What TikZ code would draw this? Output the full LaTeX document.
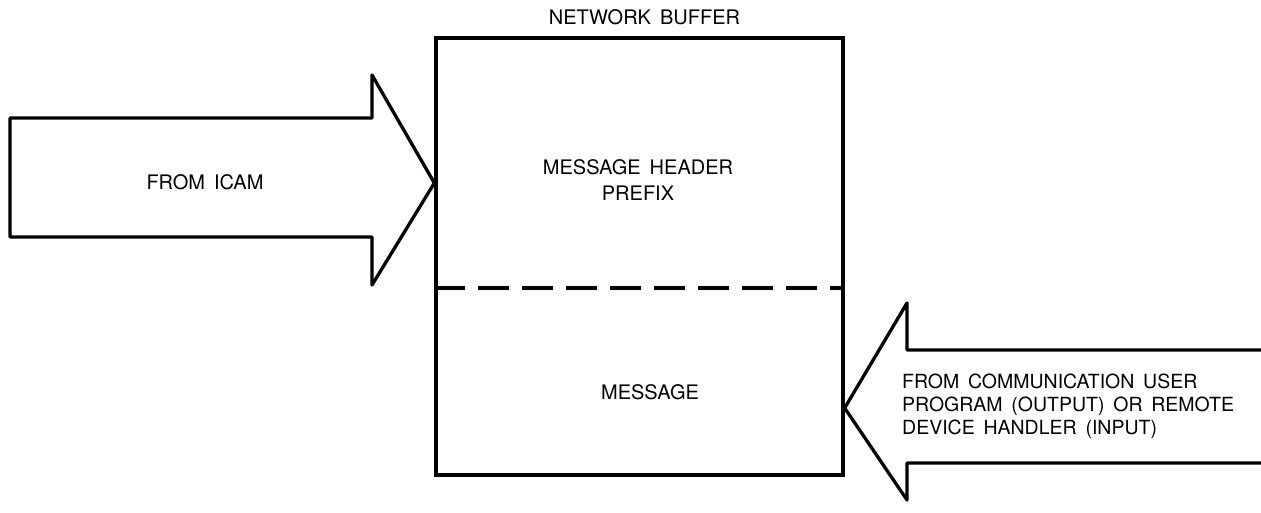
\documentclass[tikz,border=0pt]{standalone}
\usepackage{fontspec}
\setmainfont{TeX Gyre Heros}
\usetikzlibrary{positioning}
\newcommand{\widewords}{\spaceskip=0.45em\relax}

\begin{document}
\begin{tikzpicture}[x=1pt, y=-1pt]
\tikzstyle{bufferbox} = [rectangle, draw=black, line width=3.3pt, minimum width=407pt, minimum height=437pt, inner sep=0pt]
\tikzstyle{blockarrow} = [draw=black, line width=3.3pt, line join=round]
\tikzstyle{divider} = [line width=3.3pt, dash pattern=on 31pt off 13pt]
\tikzstyle{txt} = [font=\fontsize{20}{26}\selectfont\widewords, align=center, inner sep=0pt]

\useasboundingbox (0,0) rectangle (1261,512);

\node (buffer) [bufferbox] at (639.5,256.5) {};
\node (title) [txt, above=11pt of buffer.north, xshift=5pt] {NETWORK BUFFER};
\node (header) [txt] at (638,180) {MESSAGE HEADER\\PREFIX};
\node (message) [txt] at (650,392) {MESSAGE};

\coordinate (split) at (0,288);
\draw [divider] (buffer.west |- split) -- (buffer.east |- split);

% arrow from ICAM
\path (buffer.west) ++(0,-73.5) coordinate (icamtip);
\draw [blockarrow] (10,118) -- (372,118) -- (372,75) -- (icamtip) -- (372,285) -- (372,237) -- (10,237) -- cycle;
\node (icam) [txt] at (205,182) {FROM ICAM};

% arrow from user program / device handler
\path (buffer.east) ++(0,151.5) coordinate (commtip);
\draw [blockarrow] (1261,350) -- (907,350) -- (907,303) -- (commtip) -- (907,500) -- (907,463) -- (1261,463);
\node (comm) [txt, align=left, anchor=west, font=\fontsize{19.5}{23}\selectfont\widewords] at (902,406) {FROM COMMUNICATION USER\\PROGRAM (OUTPUT) OR REMOTE\\DEVICE HANDLER (INPUT)};
\end{tikzpicture}
\end{document}
